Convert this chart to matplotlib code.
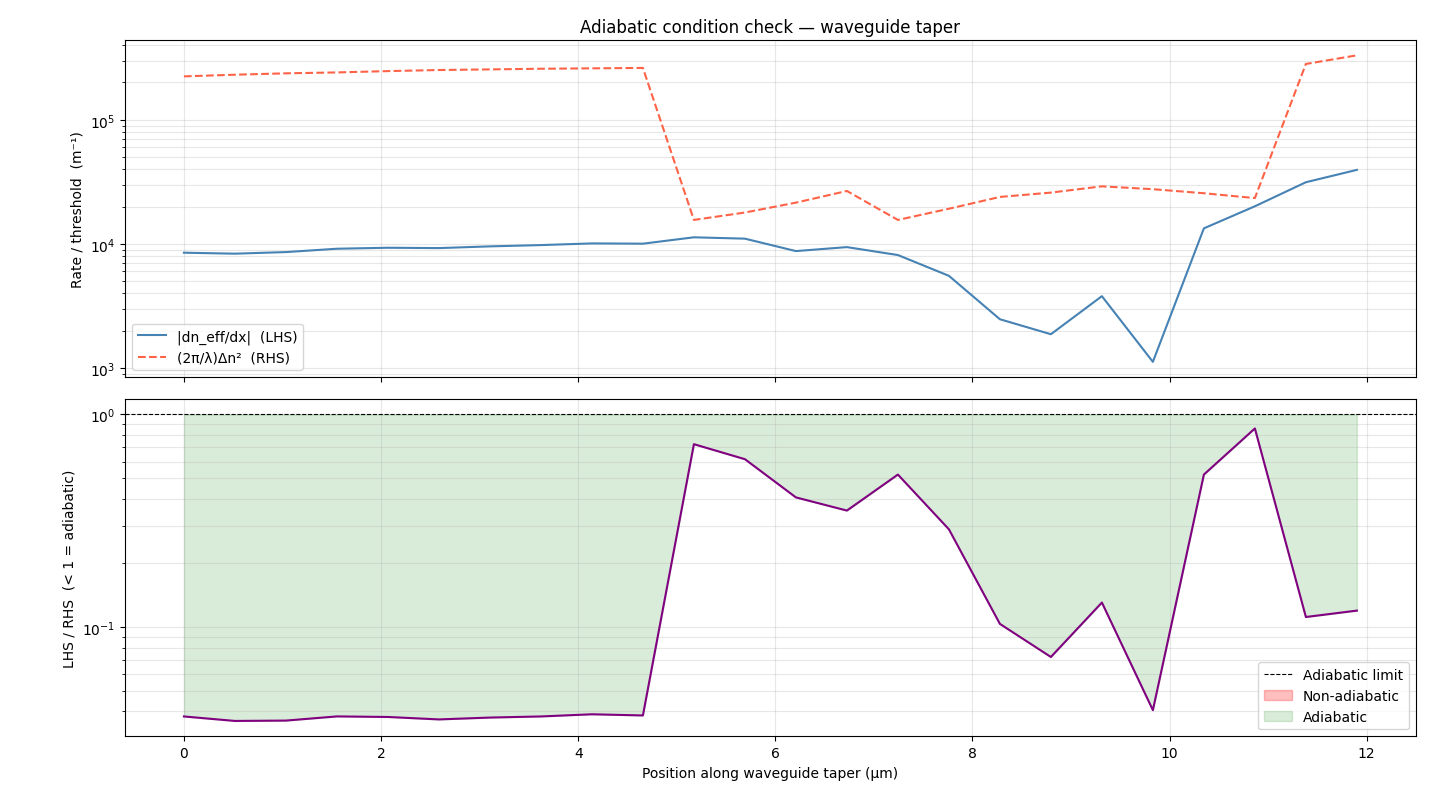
import numpy as np
import matplotlib.pyplot as plt

# position along the taper (um)
x_um = np.linspace(0, 11.9, 24)

# |dn_eff/dx| (LHS), m^-1
lhs = np.array([8490, 8340, 8590, 9140, 9310, 9250, 9550, 9780, 10090, 10040,
                11300, 11020, 8750, 9420, 8130, 5530, 2470, 1870, 3790, 1120,
                13340, 20100, 31400, 39500])

# (2pi/lambda) dn^2 (RHS), m^-1
rhs = np.array([224000, 231000, 237000, 241000, 247000, 252000, 255000, 258000,
                260000, 262000, 15600, 17900, 21500, 26700, 15600, 19200,
                23900, 25900, 29100, 27600, 25600, 23400, 282000, 331000])

ratio = lhs / rhs


def plot_check(x, lhs, rhs, ratio):
    fig, (ax1, ax2) = plt.subplots(2, 1, figsize=(14.4, 8.04), sharex=True)

    ax1.semilogy(x, lhs, color='steelblue', lw=1.5, label='|dn_eff/dx|  (LHS)')
    ax1.semilogy(x, rhs, color='tomato', lw=1.5, ls='--', label='(2π/λ)Δn²  (RHS)')
    ax1.set_ylabel('Rate / threshold  (m⁻¹)')
    ax1.set_title('Adiabatic condition check — waveguide taper')
    ax1.legend(loc='lower left')
    ax1.grid(True, which='both', alpha=0.3)

    ax2.semilogy(x, ratio, color='purple', lw=1.5)
    ax2.axhline(1.0, color='black', ls='--', lw=0.8, label='Adiabatic limit')
    ax2.fill_between(x, ratio, 1.0, where=ratio >= 1, color='red', alpha=0.25,
                     label='Non-adiabatic')
    ax2.fill_between(x, ratio, 1.0, where=ratio < 1, color='green', alpha=0.15,
                     label='Adiabatic')
    ax2.set_ylabel('LHS / RHS  (< 1 = adiabatic)')
    ax2.set_xlabel('Position along waveguide taper (µm)')
    ax2.legend(loc='lower right')
    ax2.grid(True, which='both', alpha=0.3)

    fig.subplots_adjust(left=0.087, right=0.983, top=0.949, bottom=0.083,
                        hspace=0.065)
    fig.savefig('out.png', dpi=100)


if __name__ == "__main__":
    plot_check(x_um, lhs, rhs, ratio)
